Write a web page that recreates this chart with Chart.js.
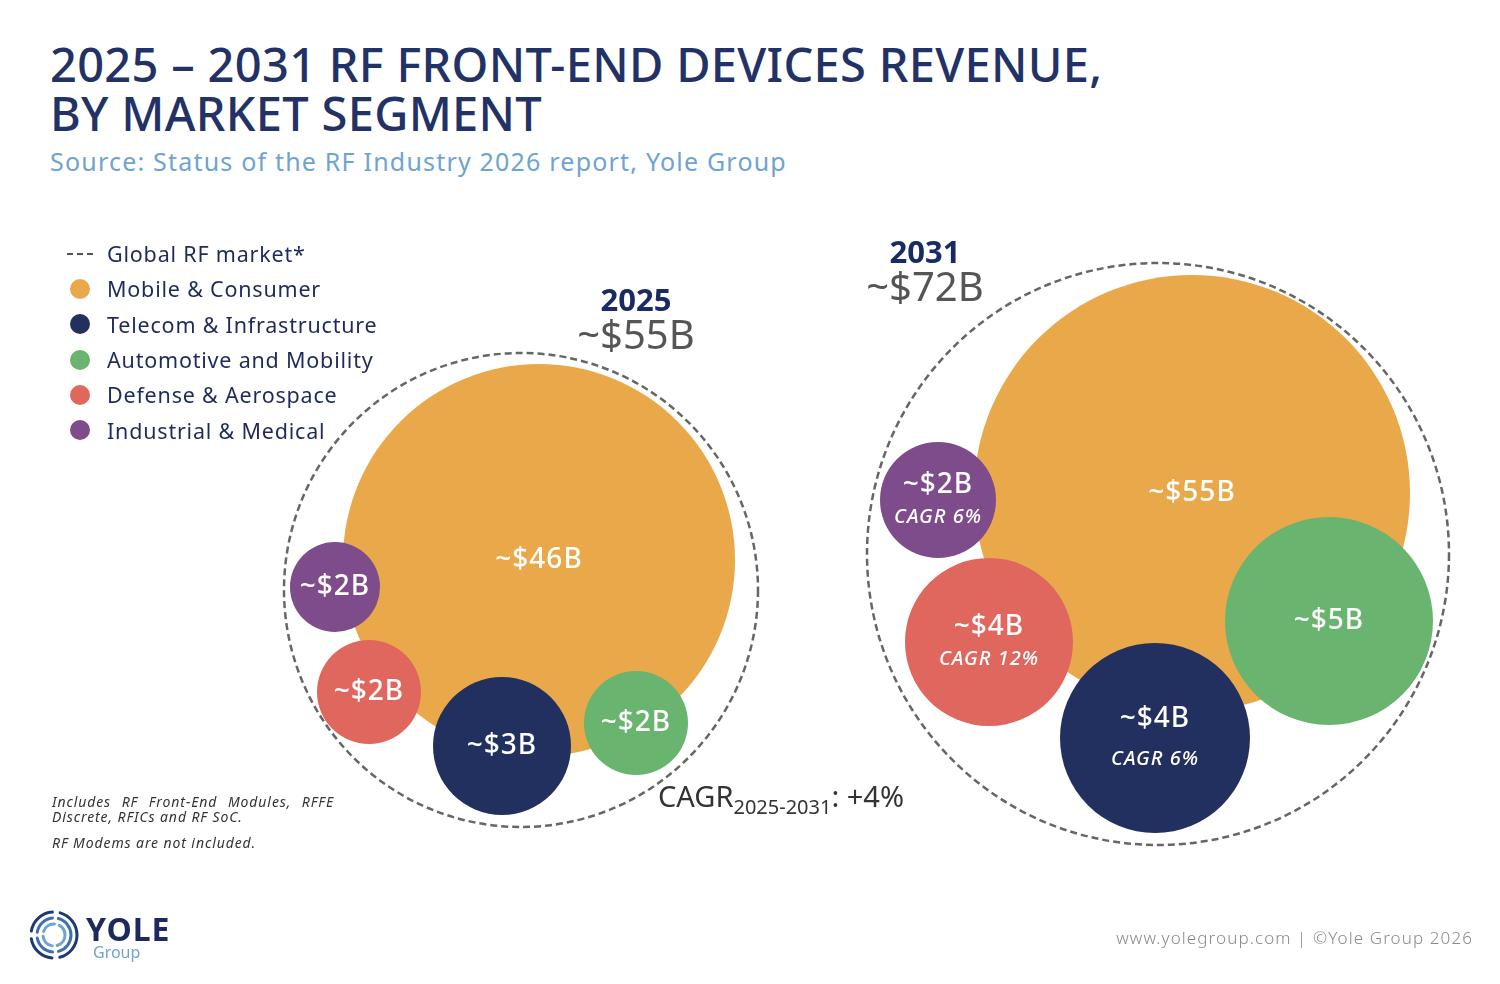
<!DOCTYPE html>
<html>
<head>
<meta charset="utf-8">
<script src="https://cdn.jsdelivr.net/npm/chart.js@4.4.1/dist/chart.umd.min.js"></script>
<style>
  html, body { margin: 0; padding: 0; background: #fff; }
  body { width: 1500px; height: 984px; position: relative; overflow: hidden; font-family: "Noto Sans", sans-serif; }
  .abs { position: absolute; white-space: nowrap; }
  #wrap { position: absolute; left: 0; top: 0; width: 1500px; height: 984px; }
  .title { left: 50px; top: 40px; font-size: 47px; font-weight: 500; color: #233266; line-height: 49px; letter-spacing: 0.3px; }
  .source { left: 50px; top: 144px; font-size: 25px; color: #6fa3d0; letter-spacing: 1.2px; }
  #legend { left: 66px; top: 236px; font-size: 21.5px; color: #1f2a5c; letter-spacing: 0.8px; }
  #legend .row { height: 35.3px; display: flex; align-items: center; }
  #legend .mk { width: 28px; display: inline-flex; justify-content: center; margin-right: 13px; }
  #legend .dot { width: 20px; height: 20px; border-radius: 50%; display: inline-block; }
  #legend .dash { width: 26px; border-top: 2px dashed #555; display: inline-block; }
  .yr { font-size: 31px; font-weight: 700; color: #1a2a64; text-align: center; width: 140px; }
  .tot { font-size: 40px; color: #555; text-align: center; width: 160px; }
  .cagr { left: 658px; top: 776px; font-size: 29px; color: #333; }
  .cagr sub { font-size: 20px; vertical-align: -7px; }
  .note { left: 52px; font-size: 14px; font-style: italic; color: #333; letter-spacing: 0.9px; }
  .footer { right: 27px; top: 926px; font-size: 17px; color: #8a8a8a; font-weight: 300; letter-spacing: 1.1px; }
  .logo { left: 28px; top: 906px; }
</style>
</head>
<body>
<div class="abs title">2025 – 2031 RF FRONT-END DEVICES REVENUE,<br>BY MARKET SEGMENT</div>
<div class="abs source">Source: Status of the RF Industry 2026 report, Yole Group</div>

<div id="wrap"><canvas id="myChart"></canvas></div>

<div class="abs" id="legend"></div>

<div class="abs yr" id="yr0"></div>
<div class="abs tot" id="tot0"></div>
<div class="abs yr" id="yr1"></div>
<div class="abs tot" id="tot1"></div>

<div class="abs cagr" id="cagrText"></div>

<div class="abs note" style="top:794px;width:282px;white-space:normal;text-align:justify;text-align-last:left;line-height:15px;">Includes RF Front-End Modules, RFFE Discrete, RFICs and RF SoC.</div>
<div class="abs note" style="top:833px;">RF Modems are not included.</div>

<div class="abs logo">
  <svg width="160" height="60" viewBox="0 0 160 60">
    <g fill="none" stroke-linecap="round">
      <circle cx="26" cy="29" r="23" stroke="#1f3a6e" stroke-width="3" stroke-dasharray="30 8"/>
      <circle cx="26" cy="29" r="17" stroke="#3f6fae" stroke-width="3" stroke-dasharray="22 6"/>
      <circle cx="26" cy="29" r="11" stroke="#6fa3d0" stroke-width="3" stroke-dasharray="14 5"/>
    </g>
    <text x="58" y="35" font-family="Noto Sans, sans-serif" font-size="32" font-weight="700" fill="#1f2a5c" letter-spacing="1">YOLE</text>
    <text x="65" y="52" font-family="Noto Sans, sans-serif" font-size="16" fill="#6fa3d0">Group</text>
  </svg>
</div>

<div class="abs footer">www.yolegroup.com | ©Yole Group 2026</div>

<script>
// data (US$ billions)
const years = ['2025', '2031'];
const segments = ['Mobile & Consumer', 'Telecom & Infrastructure', 'Automotive and Mobility', 'Defense & Aerospace', 'Industrial & Medical'];
const revenue2025 = [46, 3, 2, 2, 2];
const revenue2031 = [55, 4, 5, 4, 2];
const segmentCagr = [null, 6, null, 12, 6]; // shown in the 2031 bubbles
const globalMarket = [55, 72];
const globalCagr = 4;
const globalLabel = 'Global RF market*';

const segmentColors = ['#e9a84a', '#22305f', '#69b46e', '#e0675e', '#7e4c8a'];

// bubble layout (x, y, radius in px) - packed by hand like the original
const layout2025 = [[539, 560, 196], [502, 746, 69], [636, 723, 52], [369, 692, 52], [335, 587, 45]];
const layout2031 = [[1192, 493, 218], [1155, 738, 95], [1329, 621, 104], [989, 642, 84], [938, 500, 58]];
const layoutGlobal = [[521, 590, 237], [1158, 554, 291]];

// legend
let legend = document.getElementById('legend');
legend.innerHTML = '<div class="row"><span class="mk"><span class="dash"></span></span>' + globalLabel + '</div>' +
    segments.map((s, i) => '<div class="row"><span class="mk"><span class="dot" style="background:' + segmentColors[i] + '"></span></span>' + s + '</div>').join('');

// year + total labels
const yearPos = [[566, 278], [855, 230]];
years.forEach((y, i) => {
    let yr = document.getElementById('yr' + i);
    let tot = document.getElementById('tot' + i);
    yr.textContent = y;
    tot.textContent = '~$' + globalMarket[i] + 'B';
    yr.style.left = yearPos[i][0] + 'px';
    yr.style.top = yearPos[i][1] + 'px';
    tot.style.left = (yearPos[i][0] - 10) + 'px';
    tot.style.top = (yearPos[i][1] + 28) + 'px';
});
document.getElementById('cagrText').innerHTML = 'CAGR<sub>' + years[0] + '-' + years[1] + '</sub>: +' + globalCagr + '%';

// datasets
let datasets = segments.map((s, i) => ({
    label: s,
    data: [
        { x: layout2025[i][0], y: layout2025[i][1], r: layout2025[i][2], v: revenue2025[i], c: null },
        { x: layout2031[i][0], y: layout2031[i][1], r: layout2031[i][2], v: revenue2031[i], c: segmentCagr[i] }
    ],
    backgroundColor: segmentColors[i],
    borderWidth: 0,
    hoverBorderWidth: 0,
    order: i === 0 ? 1 : 0
}));
datasets.push({
    label: globalLabel,
    data: layoutGlobal.map((p, i) => ({ x: p[0], y: p[1], r: p[2], v: globalMarket[i] })),
    backgroundColor: 'rgba(0,0,0,0)',
    borderWidth: 0,
    order: 2,
    isGlobal: true
});

// dashed outline for the global market circles
const dashedPlugin = {
    id: 'dashedGlobal',
    beforeDatasetsDraw(chart) {
        const ctx = chart.ctx;
        chart.data.datasets.forEach((ds, di) => {
            if (!ds.isGlobal) return;
            chart.getDatasetMeta(di).data.forEach(el => {
                ctx.save();
                ctx.beginPath();
                ctx.setLineDash([7, 4]);
                ctx.lineWidth = 2.5;
                ctx.strokeStyle = '#666';
                ctx.arc(el.x, el.y, el.options.radius, 0, Math.PI * 2);
                ctx.stroke();
                ctx.restore();
            });
        });
    }
};

// value labels inside bubbles
const labelPlugin = {
    id: 'bubbleLabels',
    afterDatasetsDraw(chart) {
        const ctx = chart.ctx;
        ctx.save();
        ctx.fillStyle = '#fff';
        ctx.textAlign = 'center';
        ctx.textBaseline = 'middle';
        ctx.letterSpacing = '1px';
        chart.data.datasets.forEach((ds, di) => {
            if (ds.isGlobal) return;
            chart.getDatasetMeta(di).data.forEach((el, j) => {
                const p = ds.data[j];
                const txt = '~$' + p.v + 'B';
                if (p.c) {
                    let off = el.options.radius > 90 ? 19 : 15;
                    ctx.font = '500 28px "Noto Sans"';
                    ctx.fillText(txt, el.x, el.y - off);
                    ctx.font = 'italic 500 20px "Noto Sans"';
                    ctx.fillText('CAGR ' + p.c + '%', el.x, el.y + off + 2);
                } else {
                    ctx.font = '500 28px "Noto Sans"';
                    ctx.fillText(txt, el.x, el.y);
                }
            });
        });
        ctx.restore();
    }
};

const ctx = document.getElementById('myChart').getContext('2d');
const myChart = new Chart(ctx, {
    type: 'bubble',
    data: { datasets: datasets },
    options: {
        responsive: true,
        maintainAspectRatio: false,
        animation: false,
        layout: { padding: 0, autoPadding: false },
        clip: false,
        plugins: {
            legend: { display: false },
            tooltip: { enabled: false }
        },
        scales: {
            x: { type: 'linear', min: 0, max: 1500, display: false },
            y: { type: 'linear', min: 0, max: 984, reverse: true, display: false }
        }
    },
    plugins: [dashedPlugin, labelPlugin]
});
</script>
</body>
</html>
